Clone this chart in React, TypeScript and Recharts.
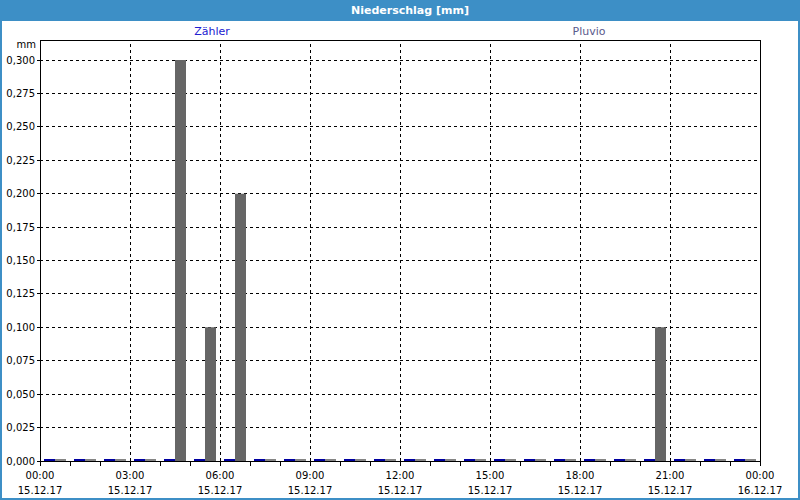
import React from 'react';
import { BarChart, Bar, Cell, XAxis, YAxis, CartesianGrid, ReferenceLine, ReferenceArea } from 'recharts';

// hourly slots, value stored at the middle of each hour
const slotCenters = [
  0.5, 1.5, 2.5, 3.5, 4.5, 5.5, 6.5, 7.5, 8.5, 9.5, 10.5, 11.5,
  12.5, 13.5, 14.5, 15.5, 16.5, 17.5, 18.5, 19.5, 20.5, 21.5, 22.5, 23.5,
];
const zaehler = [0, 0, 0, 0, 0, 0, 0, 0, 0, 0, 0, 0, 0, 0, 0, 0, 0, 0, 0, 0, 0, 0, 0, 0];
const pluvio = [0, 0, 0, 0, 0.3, 0.1, 0.2, 0, 0, 0, 0, 0, 0, 0, 0, 0, 0, 0, 0, 0, 0.1, 0, 0, 0];

const hourTicks = [0, 1, 2, 3, 4, 5, 6, 7, 8, 9, 10, 11, 12, 13, 14, 15, 16, 17, 18, 19, 20, 21, 22, 23, 24];
const gridHours = [3, 6, 9, 12, 15, 18, 21];
const timeLabels = ['00:00', '03:00', '06:00', '09:00', '12:00', '15:00', '18:00', '21:00', '00:00'];
const dateLabels = ['15.12.17', '15.12.17', '15.12.17', '15.12.17', '15.12.17', '15.12.17', '15.12.17', '15.12.17', '16.12.17'];
const yTicks = [0, 0.025, 0.05, 0.075, 0.1, 0.125, 0.15, 0.175, 0.2, 0.225, 0.25, 0.275, 0.3];

const data = slotCenters.map((h, i) => ({ h, zaehler: zaehler[i], pluvio: pluvio[i] }));

const FONT = '"DejaVu Sans", Verdana, sans-serif';
const FRAME = '#3d8fc6';

function TimeTick({ x, y, payload }: any) {
  const h = payload.value;
  if (h % 3 !== 0) return null;
  const i = h / 3;
  return (
    <text x={x} y={y} textAnchor="middle" fontSize={10} fontFamily={FONT} fill="#000">
      <tspan x={x} dy={11}>{timeLabels[i]}</tspan>
      <tspan x={x} dy={15}>{dateLabels[i]}</tspan>
    </text>
  );
}

export default function App() {
  return (
    <div
      style={{
        position: 'relative',
        width: 800,
        height: 500,
        boxSizing: 'border-box',
        background: '#fff',
        borderLeft: `2px solid ${FRAME}`,
        borderRight: `2px solid ${FRAME}`,
        borderBottom: `2px solid ${FRAME}`,
        fontFamily: FONT,
      }}
    >
      <style>{'body{margin:0}'}</style>
      <div
        style={{
          position: 'absolute',
          left: -2,
          top: 0,
          width: 800,
          height: 21,
          background: FRAME,
          color: '#fff',
          fontWeight: 'bold',
          fontSize: 11,
          lineHeight: '21px',
          textAlign: 'center',
          paddingLeft: 20,
          boxSizing: 'border-box',
        }}
      >
        Niederschlag [mm]
      </div>
      <div style={{ position: 'absolute', left: 150, width: 120, top: 25, fontSize: 11, textAlign: 'center', color: '#2020d0' }}>
        Zähler
      </div>
      <div style={{ position: 'absolute', left: 527, width: 120, top: 25, fontSize: 11, textAlign: 'center', color: '#5a5a8c' }}>
        Pluvio
      </div>
      <div style={{ position: 'absolute', left: 0, width: 34, top: 39, fontSize: 10, textAlign: 'right', color: '#000' }}>
        mm
      </div>
      <div style={{ position: 'absolute', left: -2, top: 0 }}>
        <BarChart
          width={800}
          height={500}
          data={data}
          margin={{ top: 40, right: 40, bottom: 0, left: 0 }}
          barSize={11}
          barGap={0}
        >
          <CartesianGrid vertical={false} stroke="#000" strokeDasharray="3 3" shapeRendering="crispEdges" />
          {gridHours.map((h) => (
            <ReferenceLine key={h} x={h} stroke="#000" strokeDasharray="3 3" shapeRendering="crispEdges" />
          ))}
          <XAxis
            dataKey="h"
            type="number"
            domain={[0, 24]}
            ticks={hourTicks}
            interval={0}
            height={39}
            axisLine={false}
            tickLine={{ stroke: '#000', shapeRendering: 'crispEdges' }}
            tickSize={5}
            tickMargin={2}
            tick={<TimeTick />}
          />
          <YAxis
            type="number"
            domain={[0, 0.315]}
            ticks={yTicks}
            interval={0}
            width={40}
            axisLine={false}
            tickLine={{ stroke: '#000', shapeRendering: 'crispEdges' }}
            tickSize={3}
            tickMargin={2}
            tick={{ fill: '#000', fontSize: 10, fontFamily: FONT }}
            tickFormatter={(v: number) => v.toFixed(3).replace('.', ',')}
          />
          <Bar dataKey="zaehler" fill="#0000a0" minPointSize={2} isAnimationActive={false} />
          <Bar dataKey="pluvio" fill="#666666" minPointSize={2} isAnimationActive={false}>
            {pluvio.map((v, i) => (
              <Cell key={i} fill={v > 0 ? '#666666' : '#858585'} />
            ))}
          </Bar>
          <ReferenceArea
            x1={0}
            x2={24}
            y1={0}
            y2={0.315}
            fill="none"
            fillOpacity={0}
            stroke="#000"
            strokeOpacity={1}
            shapeRendering="crispEdges"
          />
        </BarChart>
      </div>
    </div>
  );
}
